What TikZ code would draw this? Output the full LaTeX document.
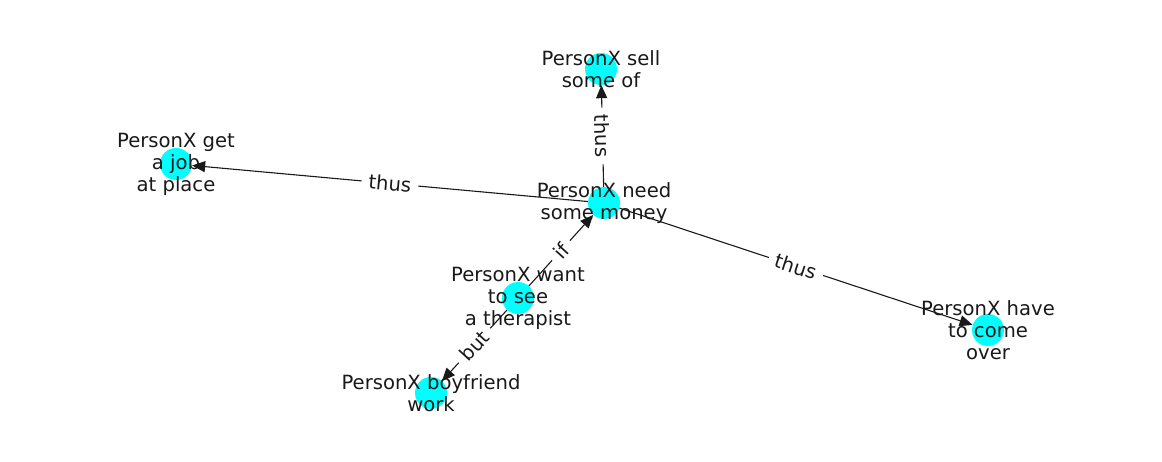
\documentclass[tikz,border=0pt]{standalone}
\usepackage{fontspec}
\setmainfont{DejaVu Sans}
\usetikzlibrary{arrows.meta}
\definecolor{nodecyan}{RGB}{0,255,255}
\begin{document}
\begin{tikzpicture}[x=1pt,y=-1pt,
  dot/.style={circle,fill=nodecyan,draw=none,minimum size=32pt,inner sep=0pt},
  lbl/.style={align=center,font=\fontsize{19.6}{22}\selectfont,text=black!90,inner sep=0pt},
  edge/.style={draw=black!90,line width=1.1pt,-{Triangle[length=13pt,width=11pt]}},
  elbl/.style={fill=white,inner xsep=7pt,inner ysep=3pt,font=\fontsize{19.6}{22}\selectfont,text=black!90,sloped}]
\useasboundingbox[fill=white] (0,0) rectangle (1162,462);
\node[dot] (need) at (604,203) {};
\node[dot] (sell) at (601,69) {};
\node[dot] (get) at (176,164) {};
\node[dot] (want) at (518,298) {};
\node[dot] (bf) at (431,393) {};
\node[dot] (have) at (988,330) {};
\draw[edge] (need) -- (sell);
\draw[edge] (need) -- (get);
\draw[edge] (need) -- (have);
\draw[edge] (want) -- (need);
\draw[edge] (want) -- (bf);
\path (need.center) -- node[elbl]{thus} (sell.center);
\path (need.center) -- node[elbl]{thus} (get.center);
\path (need.center) -- node[elbl]{thus} (have.center);
\path (want.center) -- node[elbl]{if} (need.center);
\path (want.center) -- node[elbl]{but} (bf.center);
\node[lbl] (tneed) at (need.center) {PersonX need\\some money};
\node[lbl] (tsell) at (sell.center) {PersonX sell\\some of};
\node[lbl] (tget) at (get.center) {PersonX get\\a job\\at place};
\node[lbl] (twant) at (want.center) {PersonX want\\to see\\a therapist};
\node[lbl] (tbf) at (bf.center) {PersonX boyfriend\\work};
\node[lbl] (thave) at (have.center) {PersonX have\\to come\\over};
\end{tikzpicture}
\end{document}
